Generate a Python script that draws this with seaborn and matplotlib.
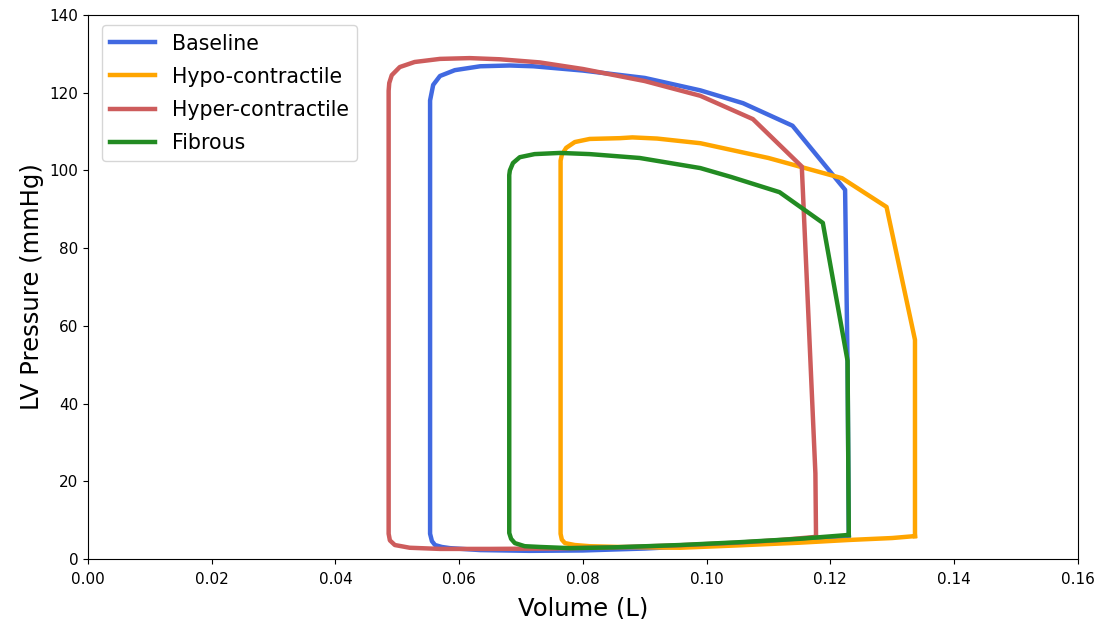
import matplotlib
matplotlib.use("Agg")
import matplotlib.pyplot as plt
import seaborn as sns
import pandas as pd

# Baseline loop (volume in L, pressure in mmHg), in cycle order
base_V = [0.1230, 0.1228, 0.1224, 0.1139, 0.1059, 0.0990, 0.0900, 0.0800, 0.0720, 0.0682, 0.0634, 0.0593,
          0.0569, 0.0558, 0.0553, 0.0553, 0.0556, 0.0561, 0.0572, 0.0585, 0.0634, 0.0714, 0.0800, 0.0900,
          0.1000, 0.1100, 0.1180, 0.1230]
base_P = [5.5, 50, 95, 111.5, 117.3, 120.6, 123.8, 125.7, 126.8, 127.0, 126.8, 125.8,
          124.3, 122.0, 118.0, 6.5, 4.6, 3.6, 3.1, 2.8, 2.3, 2.1, 2.2, 2.7,
          3.5, 4.4, 5.1, 5.5]

# Hypo-contractile loop
hypo_V = [0.1337, 0.1337, 0.1291, 0.1219, 0.1100, 0.0990, 0.0920, 0.0880, 0.0860, 0.0811, 0.0787, 0.0773,
          0.0766, 0.0764, 0.0764, 0.0766, 0.0771, 0.0787, 0.0811, 0.0860, 0.0957, 0.1050, 0.1150, 0.1230,
          0.1300, 0.1337]
hypo_P = [5.9, 56.4, 90.6, 98.0, 103.2, 107.0, 108.2, 108.5, 108.3, 108.1, 107.3, 105.8,
          104.0, 102.5, 6.5, 5.0, 4.1, 3.6, 3.3, 3.1, 2.9, 3.5, 4.2, 4.9,
          5.4, 5.9]

# Hyper-contractile loop
hyper_V = [0.1177, 0.1176, 0.1154, 0.1075, 0.0990, 0.0900, 0.0800, 0.0730, 0.0666, 0.0617, 0.0569, 0.0528,
           0.0504, 0.0491, 0.0487, 0.0486, 0.0486, 0.0488, 0.0496, 0.0520, 0.0569, 0.0650, 0.0750, 0.0850,
           0.0950, 0.1050, 0.1120, 0.1177]
hyper_P = [5.7, 22, 101, 113.2, 119.2, 123.0, 126.1, 127.8, 128.6, 128.9, 128.7, 127.9,
           126.6, 124.5, 122.5, 120.5, 6.5, 4.8, 3.6, 2.9, 2.6, 2.6, 2.7, 3.0,
           3.5, 4.2, 4.9, 5.7]

# Fibrous loop
fib_V = [0.1230, 0.1228, 0.1188, 0.1118, 0.1040, 0.0990, 0.0892, 0.0811, 0.0763, 0.0722, 0.0698, 0.0687,
         0.0682, 0.0681, 0.0681, 0.0684, 0.0690, 0.0706, 0.0731, 0.0779, 0.0850, 0.0957, 0.1050, 0.1150,
         0.1230]
fib_P = [6.2, 51, 86.5, 94.4, 98.3, 100.6, 103.2, 104.2, 104.5, 104.2, 103.4, 101.9,
         100.0, 98.8, 6.7, 5.2, 4.1, 3.3, 3.1, 2.8, 3.0, 3.6, 4.3, 5.2,
         6.2]

series = [
    ("Baseline", base_V, base_P, "royalblue"),
    ("Hypo-contractile", hypo_V, hypo_P, "orange"),
    ("Hyper-contractile", hyper_V, hyper_P, "indianred"),
    ("Fibrous", fib_V, fib_P, "forestgreen"),
]

fig = plt.figure(figsize=(11.02, 6.19), dpi=100)
ax = fig.add_axes([0.0799, 0.0969, 0.898, 0.8789])

for name, V, P, col in series:
    df = pd.DataFrame({"V": V + [V[0]], "P": P + [P[0]]})
    sns.lineplot(data=df, x="V", y="P", sort=False, estimator=None, color=col,
                 linewidth=3.2, label=name, ax=ax)

ax.set_xlim(0, 0.16)
ax.set_ylim(0, 140)
ax.set_xticks([0.00, 0.02, 0.04, 0.06, 0.08, 0.10, 0.12, 0.14, 0.16])
ax.set_xticklabels(["0.00", "0.02", "0.04", "0.06", "0.08", "0.10", "0.12", "0.14", "0.16"])
ax.set_yticks([0, 20, 40, 60, 80, 100, 120, 140])
ax.tick_params(labelsize=11)
ax.tick_params(axis="x", pad=6)
ax.set_xlabel("Volume (L)", fontsize=17.5, labelpad=7)
ax.set_ylabel("LV Pressure (mmHg)", fontsize=17.5)
ax.legend(loc="upper left", bbox_to_anchor=(0.0141, 0.981), borderaxespad=0,
          fontsize=14.8, handlelength=2.2, labelspacing=0.64)

fig.savefig("out.png", dpi=100)
